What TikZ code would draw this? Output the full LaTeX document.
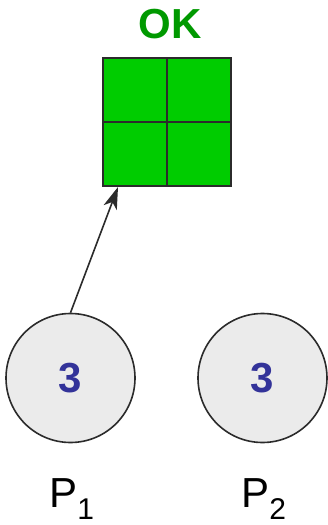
\documentclass[tikz,border=0pt]{standalone}
\usepackage{fontspec}
\setmainfont{Liberation Sans}
\usetikzlibrary{arrows.meta}
\definecolor{cellgreen}{HTML}{00CC00}
\definecolor{okgreen}{HTML}{009900}
\definecolor{edgegray}{HTML}{2B2B2B}
\definecolor{ballfill}{HTML}{EBEBEB}
\definecolor{countblue}{HTML}{333399}
\tikzset{
  cell/.style={draw=edgegray, line width=2pt, fill=cellgreen, minimum size=64pt, inner sep=0pt},
  ball/.style={circle, draw=edgegray, line width=1.6pt, fill=ballfill, minimum size=129pt, inner sep=0pt,
               font=\fontsize{42}{42}\selectfont\bfseries, text=countblue},
  plabel/.style={font=\fontsize{42}{42}\selectfont, text=black, inner sep=0pt},
  title/.style={font=\fontsize{42}{42}\selectfont\bfseries, text=okgreen, inner sep=0pt},
  link/.style={draw=edgegray, line width=1.6pt, -{Stealth[length=22pt,width=14pt,inset=6pt]}}
}
\begin{document}
\begin{tikzpicture}[x=1pt,y=-1pt]
  \useasboundingbox (0,0) rectangle (328,525);
  % status label
  \node[title] (ok) at (170,24) {OK};
  % 2x2 lock grid
  \node[cell] (g11) at (134.5,89.5) {};
  \node[cell] (g12) at (198.5,89.5) {};
  \node[cell] (g21) at (134.5,153.5) {};
  \node[cell] (g22) at (198.5,153.5) {};
  \coordinate (tip) at (118,187);
  % processes
  \node[ball] (p1) at (70.5,378) {3};
  \node[ball] (p2) at (262.5,378) {3};
  \node[plabel] (l1) at (72,499) {P$_{\mbox{\fontsize{30}{30}\selectfont 1}}$};
  \node[plabel] (l2) at (264,499) {P$_{\mbox{\fontsize{30}{30}\selectfont 2}}$};
  % request arrow
  \draw[link] (p1.north) -- (tip);
\end{tikzpicture}
\end{document}
